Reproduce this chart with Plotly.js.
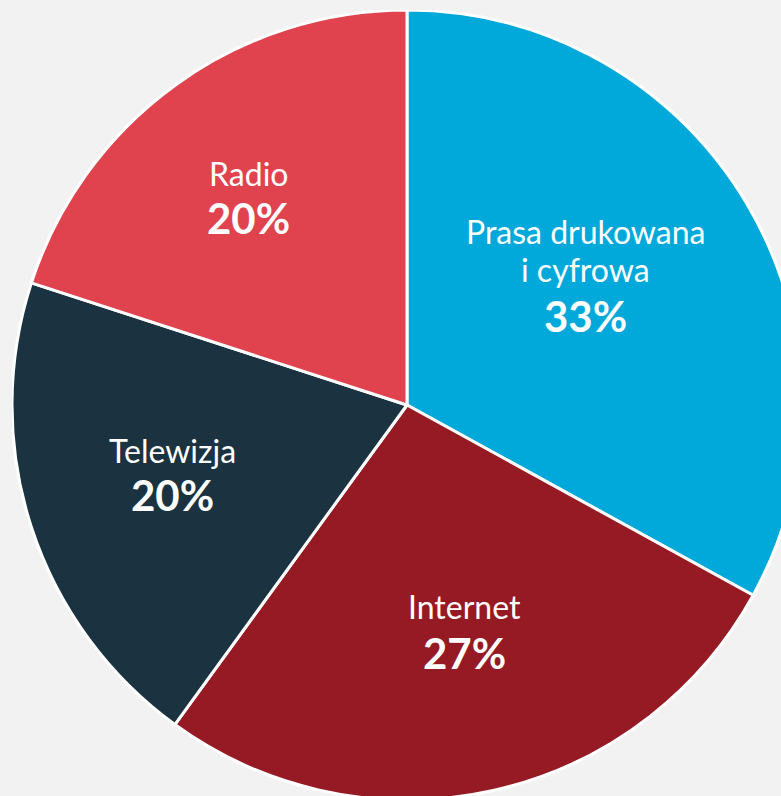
<!DOCTYPE html>
<html><head><meta charset="utf-8">
<script src="https://cdn.plot.ly/plotly-3.0.1.min.js"></script>
<style>
html,body{margin:0;padding:0;background:#F2F2F2;overflow:hidden;width:781px;height:796px;}
#chart{position:absolute;left:12px;top:10px;width:790px;height:790px;}
</style></head><body>
<div id="chart"></div>
<script>
const categories = ["Prasa drukowana|i cyfrowa", "Internet", "Telewizja", "Radio"];
const values = [33, 27, 20, 20];
const colors = ["#00A9DA", "#961A24", "#1B3340", "#E0434E"];
// label centres in page pixels: x, name line y(s), percent y
const labelX = [585, 464, 172, 248];
const nameY = [[232, 269], [606], [450], [173]];
const pctY = [316, 653, 495, 218];

const W = 790, H = 790, L = 12, T = 10;
const px = x => (x - L) / W;
const py = y => 1 - (y - T) / H;

const annotations = [];
categories.forEach((c, i) => {
  const lines = c.split('|');
  lines.forEach((ln, j) => {
    annotations.push({x: px(labelX[i]), y: py(nameY[i][j]), xref: 'paper', yref: 'paper', text: ln, showarrow: false,
      xanchor: 'center', yanchor: 'middle', align: 'center',
      font: {family: 'Lato', size: 32, color: '#FFFFFF'}});
  });
  annotations.push({x: px(labelX[i]), y: py(pctY[i]), xref: 'paper', yref: 'paper', text: '<b>' + values[i] + '%</b>', showarrow: false,
    xanchor: 'center', yanchor: 'middle',
    font: {family: 'Lato', size: 42, color: '#FFFFFF'}});
});

Plotly.newPlot('chart', [{
  type: 'pie', labels: categories.map(c => c.replace('|', ' ')), values: values, sort: false, direction: 'clockwise', rotation: 0,
  marker: {colors: colors, line: {color: '#FFFFFF', width: 3}},
  textinfo: 'none', hoverinfo: 'none', showlegend: false
}], {
  width: W, height: H, margin: {l: 0, r: 0, t: 0, b: 0},
  paper_bgcolor: 'rgba(0,0,0,0)', plot_bgcolor: 'rgba(0,0,0,0)',
  annotations: annotations
}, {displayModeBar: false, staticPlot: true});
</script></body></html>
